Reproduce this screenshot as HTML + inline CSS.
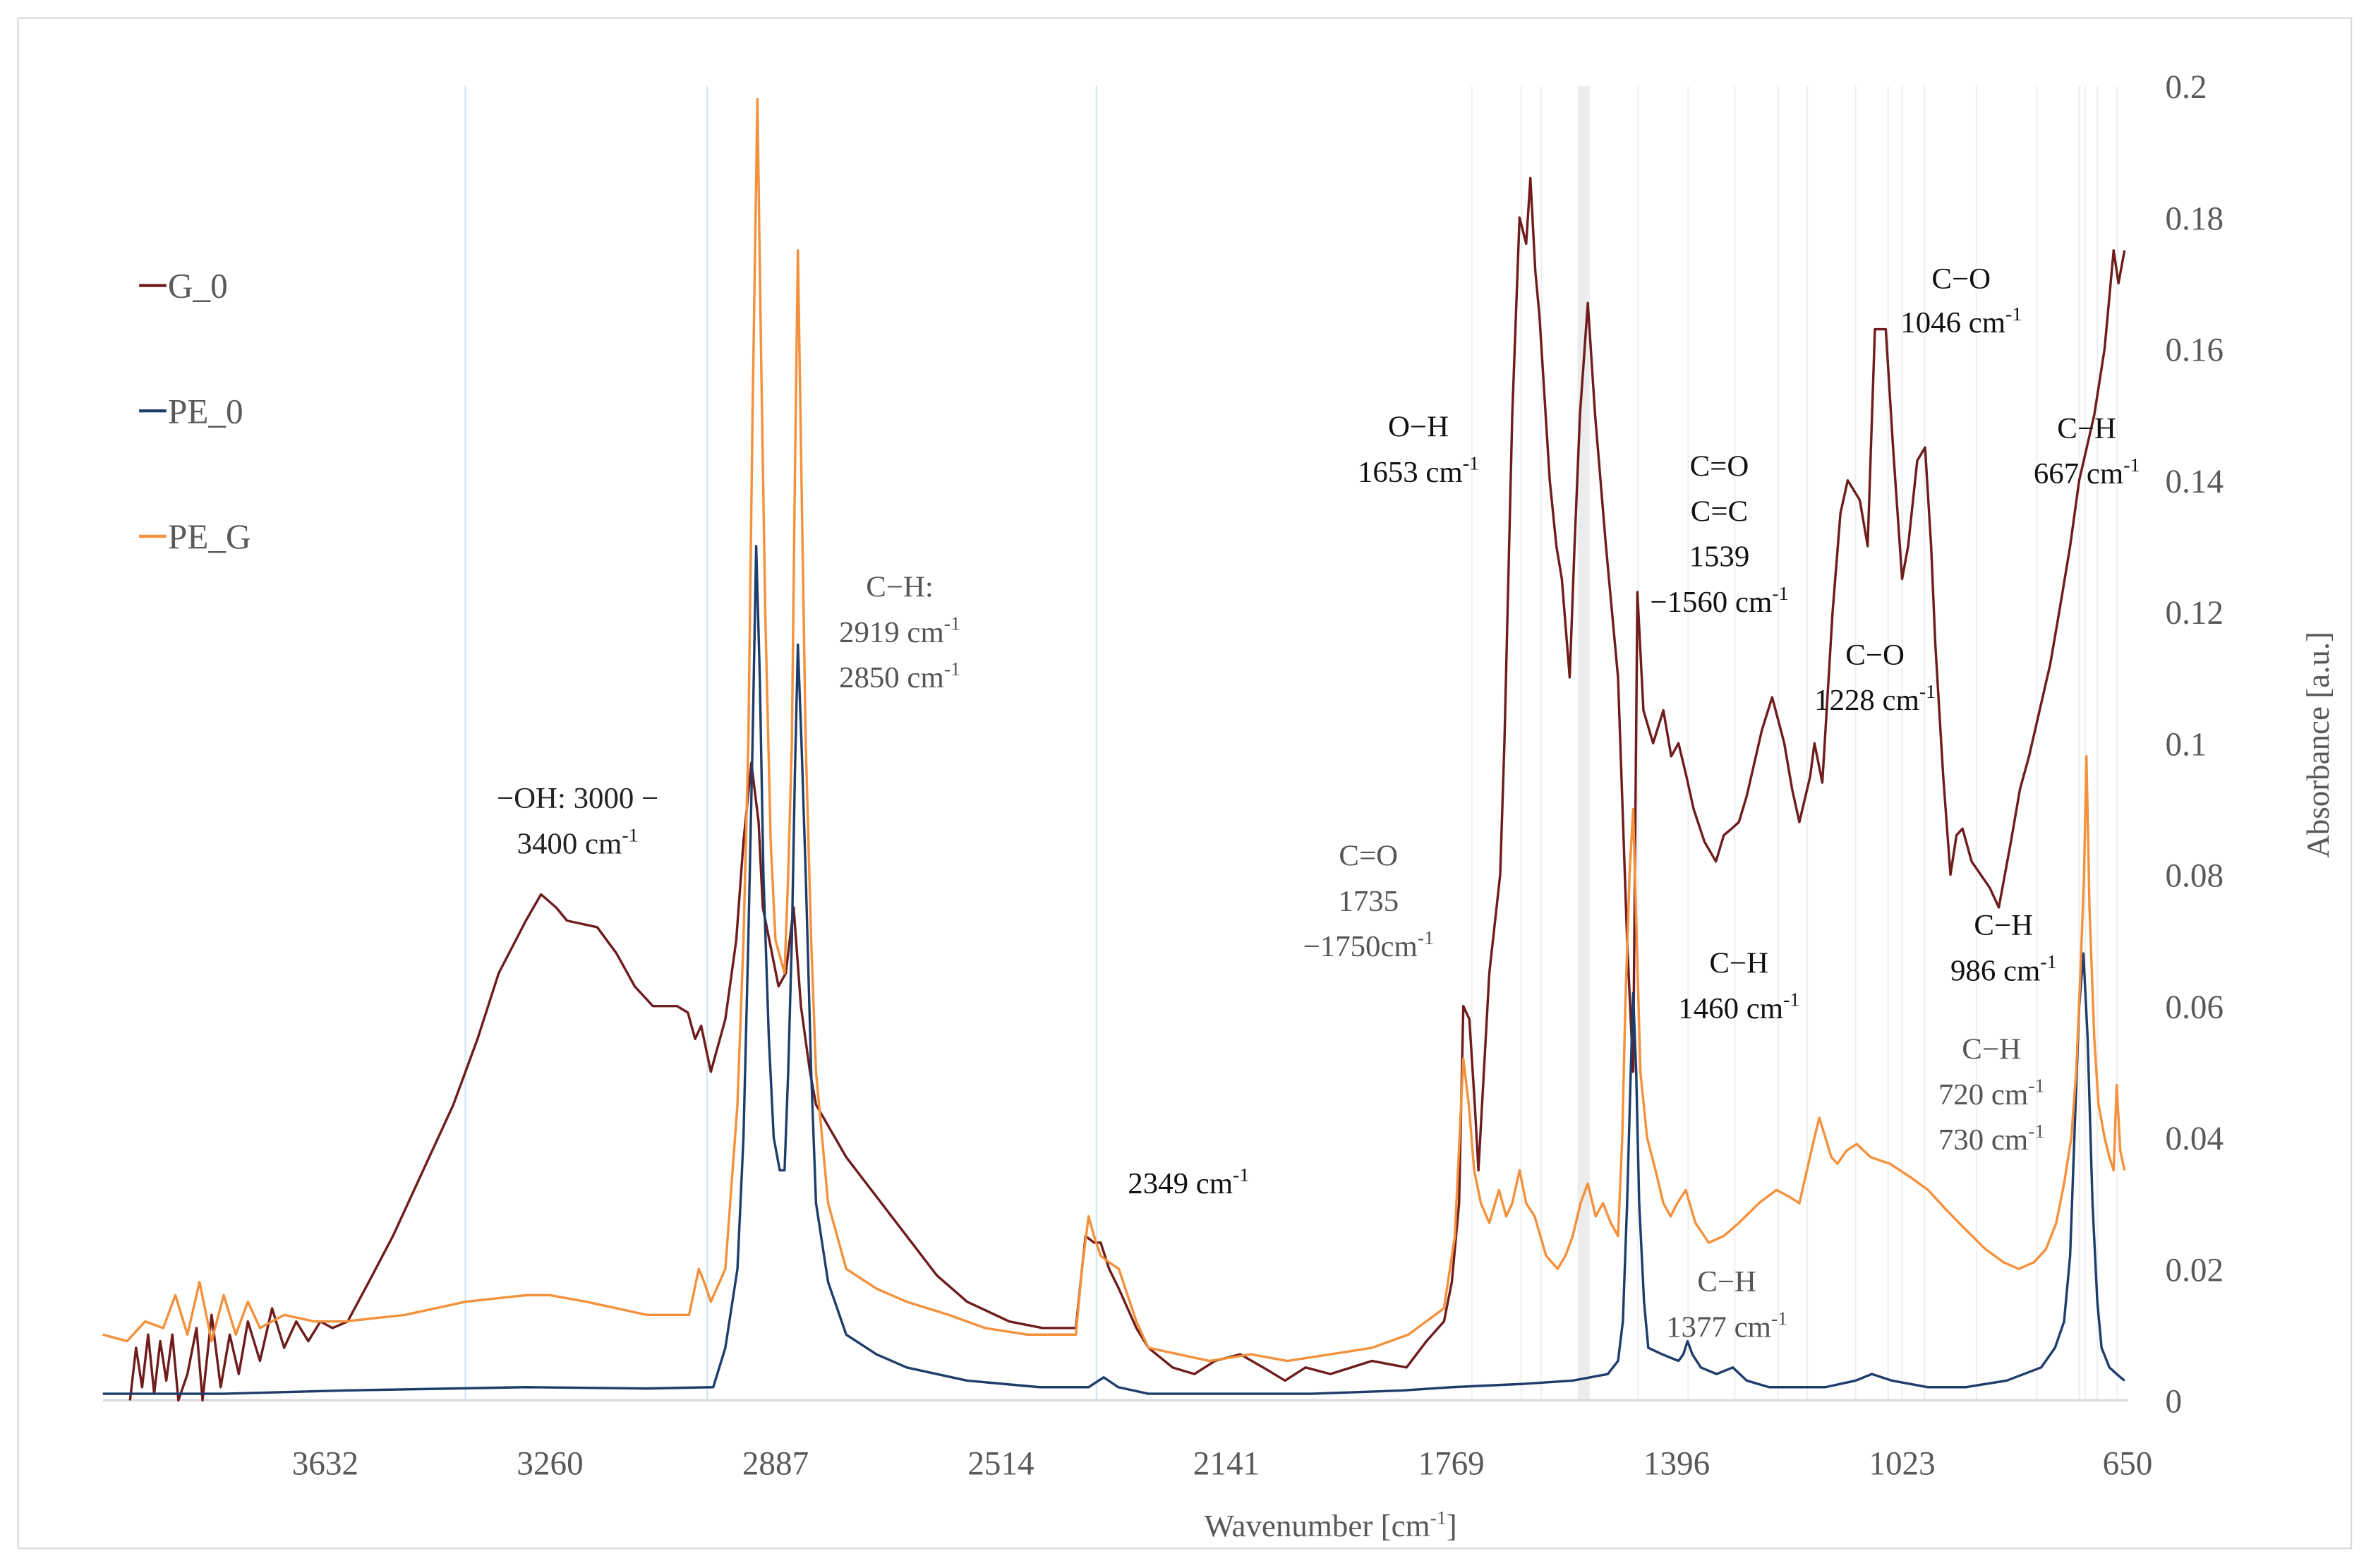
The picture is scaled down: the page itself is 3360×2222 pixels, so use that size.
<!DOCTYPE html>
<html><head><meta charset="utf-8"><style>
html,body{margin:0;padding:0;background:#fff;}
svg{display:block;}
text{font-family:"Liberation Serif",serif;}
</style></head><body>
<svg id="chart" width="3360" height="2222" viewBox="0 0 1568 1038" preserveAspectRatio="none" xmlns="http://www.w3.org/2000/svg">
<rect x="12" y="12" width="1543" height="1013" fill="#fff" stroke="#d9d9d9" stroke-width="1"/>
<g id="grid"></g>
<g id="axes"></g>
<g id="series"></g>
<g id="annot" font-size="20"></g>
<g id="legend"></g>
</svg>
<script>
const xTicks=[3632,3260,2887,2514,2141,1769,1396,1023,650];
const yTicks=[0,0.02,0.04,0.06,0.08,0.1,0.12,0.14,0.16,0.18,0.2];
const yTickLabels=["0","0.02","0.04","0.06","0.08","0.1","0.12","0.14","0.16","0.18","0.2"];
const gridBlue=[3400,3000,2356];
const gridGray=[1735,1653,1620,1460,1377,1300,1228,1180,1100,1046,1023,986,900,800,730,720,700,667];
const seriesNames=["G_0","PE_0","PE_G"];
const seriesColors=["#6e1c1c","#1f3d6b","#f4913c"];
const g0=[[3955,0.0],[3945,0.008],[3935,0.002],[3925,0.01],[3915,0.001],[3905,0.009],[3895,0.003],[3885,0.01],[3875,0.0],[3860,0.004],[3845,0.011],[3835,0.0],[3820,0.013],[3805,0.002],[3790,0.01],[3775,0.004],[3760,0.012],[3740,0.006],[3720,0.014],[3700,0.008],[3680,0.012],[3660,0.009],[3640,0.012],[3620,0.011],[3595,0.012],[3560,0.018],[3520,0.025],[3470,0.035],[3420,0.045],[3380,0.055],[3345,0.065],[3300,0.073],[3275,0.077],[3250,0.075],[3232,0.073],[3182,0.072],[3150,0.068],[3120,0.063],[3090,0.06],[3050,0.06],[3032,0.059],[3020,0.055],[3010,0.057],[2994,0.05],[2970,0.058],[2952,0.07],[2940,0.085],[2927,0.097],[2915,0.088],[2908,0.075],[2882,0.063],[2870,0.065],[2857,0.075],[2845,0.06],[2830,0.05],[2820,0.045],[2770,0.037],[2720,0.031],[2670,0.025],[2620,0.019],[2570,0.015],[2500,0.012],[2445,0.011],[2390,0.011],[2380,0.02],[2374,0.025],[2360,0.024],[2349,0.024],[2335,0.02],[2319,0.017],[2290,0.011],[2270,0.008],[2230,0.005],[2194,0.004],[2160,0.006],[2118,0.007],[2080,0.005],[2044,0.003],[2010,0.005],[1969,0.004],[1900,0.006],[1843,0.005],[1810,0.009],[1781,0.012],[1768,0.018],[1756,0.03],[1749,0.06],[1739,0.058],[1730,0.045],[1724,0.035],[1715,0.05],[1706,0.065],[1688,0.08],[1681,0.1],[1668,0.15],[1656,0.18],[1645,0.176],[1638,0.186],[1630,0.172],[1623,0.165],[1606,0.14],[1595,0.13],[1586,0.125],[1573,0.11],[1565,0.13],[1556,0.15],[1543,0.167],[1531,0.15],[1513,0.13],[1493,0.11],[1478,0.07],[1468,0.05],[1461,0.123],[1451,0.105],[1435,0.1],[1418,0.105],[1405,0.098],[1393,0.1],[1380,0.095],[1368,0.09],[1350,0.085],[1331,0.082],[1318,0.086],[1305,0.087],[1293,0.088],[1280,0.092],[1255,0.102],[1238,0.107],[1218,0.1],[1205,0.093],[1193,0.088],[1175,0.095],[1168,0.1],[1155,0.094],[1138,0.12],[1125,0.135],[1113,0.14],[1093,0.137],[1080,0.13],[1068,0.163],[1050,0.163],[1038,0.145],[1023,0.125],[1013,0.13],[998,0.143],[985,0.145],[975,0.13],[968,0.115],[955,0.095],[943,0.08],[933,0.086],[923,0.087],[908,0.082],[893,0.08],[878,0.078],[863,0.075],[853,0.08],[843,0.085],[828,0.093],[813,0.098],[793,0.106],[778,0.112],[763,0.12],[745,0.13],[730,0.14],[705,0.15],[688,0.16],[673,0.175],[665,0.17],[655,0.175]];
const pe0=[[4000,0.001],[3800,0.001],[3600,0.0015],[3300,0.002],[3100,0.0018],[2990,0.002],[2970,0.008],[2950,0.02],[2940,0.04],[2932,0.07],[2925,0.1],[2919,0.13],[2913,0.11],[2907,0.08],[2898,0.055],[2890,0.04],[2880,0.035],[2872,0.035],[2866,0.05],[2860,0.07],[2855,0.095],[2850,0.115],[2844,0.1],[2837,0.08],[2828,0.05],[2820,0.03],[2800,0.018],[2770,0.01],[2720,0.007],[2670,0.005],[2620,0.004],[2570,0.003],[2450,0.002],[2369,0.002],[2344,0.0035],[2320,0.002],[2270,0.001],[2000,0.001],[1850,0.0015],[1768,0.002],[1650,0.0025],[1568,0.003],[1510,0.004],[1493,0.006],[1485,0.012],[1478,0.03],[1472,0.05],[1468,0.062],[1463,0.05],[1458,0.03],[1450,0.015],[1443,0.008],[1420,0.007],[1393,0.006],[1385,0.007],[1378,0.009],[1370,0.007],[1356,0.005],[1330,0.004],[1303,0.005],[1280,0.003],[1243,0.002],[1150,0.002],[1100,0.003],[1073,0.004],[1040,0.003],[980,0.002],[918,0.002],[850,0.003],[793,0.005],[770,0.008],[755,0.012],[745,0.022],[738,0.04],[730,0.06],[723,0.068],[716,0.055],[708,0.03],[700,0.015],[693,0.008],[680,0.005],[668,0.004],[655,0.003]];
const peg=[[4000,0.01],[3960,0.009],[3930,0.012],[3900,0.011],[3880,0.016],[3860,0.01],[3840,0.018],[3820,0.009],[3800,0.016],[3780,0.01],[3760,0.015],[3740,0.011],[3700,0.013],[3650,0.012],[3600,0.012],[3500,0.013],[3400,0.015],[3300,0.016],[3260,0.016],[3200,0.015],[3100,0.013],[3030,0.013],[3014,0.02],[3005,0.018],[2994,0.015],[2970,0.02],[2950,0.045],[2940,0.07],[2932,0.1],[2925,0.15],[2917,0.198],[2911,0.16],[2904,0.12],[2895,0.085],[2887,0.07],[2872,0.065],[2866,0.08],[2860,0.1],[2855,0.14],[2850,0.175],[2844,0.14],[2837,0.1],[2828,0.07],[2820,0.05],[2800,0.03],[2770,0.02],[2720,0.017],[2670,0.015],[2600,0.013],[2540,0.011],[2470,0.01],[2390,0.01],[2380,0.02],[2369,0.028],[2360,0.025],[2349,0.022],[2335,0.021],[2319,0.02],[2290,0.012],[2270,0.008],[2220,0.007],[2169,0.006],[2100,0.007],[2040,0.006],[1969,0.007],[1900,0.008],[1840,0.01],[1781,0.014],[1763,0.025],[1749,0.052],[1740,0.045],[1731,0.035],[1720,0.03],[1706,0.027],[1690,0.032],[1678,0.028],[1668,0.03],[1656,0.035],[1645,0.03],[1631,0.028],[1612,0.022],[1593,0.02],[1580,0.022],[1568,0.025],[1555,0.03],[1543,0.033],[1530,0.028],[1518,0.03],[1505,0.027],[1493,0.025],[1486,0.04],[1481,0.06],[1474,0.08],[1468,0.09],[1462,0.07],[1456,0.05],[1445,0.04],[1431,0.035],[1418,0.03],[1406,0.028],[1395,0.03],[1381,0.032],[1365,0.027],[1343,0.024],[1318,0.025],[1293,0.027],[1260,0.03],[1231,0.032],[1210,0.031],[1193,0.03],[1178,0.036],[1168,0.04],[1160,0.043],[1150,0.04],[1140,0.037],[1130,0.036],[1115,0.038],[1098,0.039],[1075,0.037],[1043,0.036],[1010,0.034],[980,0.032],[950,0.029],[918,0.026],[885,0.023],[855,0.021],[830,0.02],[805,0.021],[785,0.023],[768,0.027],[755,0.033],[743,0.04],[735,0.05],[728,0.065],[722,0.08],[718,0.098],[713,0.075],[705,0.055],[698,0.045],[688,0.04],[680,0.037],[673,0.035],[668,0.048],[662,0.038],[655,0.035]];
const allSeries=[g0,pe0,peg];

const X0=68,X1=1407,W0=4000,W1=650,Y0=927,YT=57;
function sx(w){return X0+(W0-w)/(W0-W1)*(X1-X0);}
function sy(v){return Y0-v/0.2*(Y0-YT);}
const NS="http://www.w3.org/2000/svg";
function mk(tag,attrs,parent){const e=document.createElementNS(NS,tag);for(const k in attrs)e.setAttribute(k,attrs[k]);parent.appendChild(e);return e;}

const grid=document.getElementById('grid');
const band=mk('rect',{x:sx(1560),y:YT,width:sx(1540)-sx(1560),height:Y0-YT,fill:'#ececec'},grid);


gridBlue.forEach(w=>{const l=mk('line',{x1:sx(w),x2:sx(w),y1:YT,y2:Y0,stroke:'#cfe6ec','stroke-width':1},grid);

});
gridGray.forEach(w=>{const l=mk('line',{x1:sx(w),x2:sx(w),y1:YT,y2:Y0,stroke:'#efefef','stroke-width':1},grid);

});

const axes=document.getElementById('axes');
const xl=mk('line',{x1:X0,x2:X1,y1:Y0,y2:Y0,stroke:'#d9d9d9','stroke-width':1.5},axes);


xTicks.forEach((w,i)=>{const t=mk('text',{x:sx(w),y:976,'text-anchor':'middle','font-size':22,fill:'#595959'},axes);t.textContent=w;

});
yTicks.forEach((v,i)=>{const t=mk('text',{x:1432,y:sy(v)+8,'font-size':22,fill:'#595959'},axes);t.textContent=yTickLabels[i];

});
const xt=mk('text',{x:880,y:1017,'text-anchor':'middle','font-size':21,fill:'#595959'},axes);
xt.innerHTML='Wavenumber [cm<tspan dy="-8" font-size="13">-1</tspan><tspan dy="8">]</tspan>';


const yt=mk('text',{x:0,y:0,'text-anchor':'middle','font-size':21,fill:'#595959',transform:'translate(1540,493) rotate(-90)'},axes);
yt.textContent='Absorbance [a.u.]';



const sg=document.getElementById('series');
allSeries.forEach((data,i)=>{
 const d=data.map((p,j)=>(j?'L':'M')+sx(p[0]).toFixed(2)+','+sy(p[1]).toFixed(2)).join('');
 const p=mk('path',{d:d,fill:'none',stroke:seriesColors[i],'stroke-width':1.6,'stroke-linejoin':'round'},sg);
 
 
});
// draw G_0 on top of orange? reference: PE_G over G_0 in some places; keep order G,PE0,PEG.

const lg=document.getElementById('legend');
seriesNames.forEach((n,i)=>{const y=189+i*83;
 const l=mk('line',{x1:92,x2:110,y1:y,y2:y,stroke:seriesColors[i],'stroke-width':2},lg);
 
 
 const t=mk('text',{x:111,y:y+8,'font-size':23,fill:'#595959'},lg);t.textContent=n;
 
 
});

const ann=document.getElementById('annot');
const notes=[
 [382,528,'−OH: 3000 −','#222'],[382,558,'3400 cm|-1','#222'],
 [595,388,'C−H:','#555'],[595,418,'2919 cm|-1','#555'],[595,448,'2850 cm|-1','#555'],
 [786,783,'2349 cm|-1','#111'],
 [905,566,'C=O','#555'],[905,596,'1735','#555'],[905,626,'−1750cm|-1','#555'],
 [938,282,'O−H','#111'],[938,312,'1653 cm|-1','#111'],
 [1137,308,'C=O','#111'],[1137,338,'C=C','#111'],[1137,368,'1539','#111'],[1137,398,'−1560 cm|-1','#111'],
 [1297,184,'C−O','#111'],[1297,213,'1046 cm|-1','#111'],
 [1380,283,'C−H','#111'],[1380,313,'667 cm|-1','#111'],
 [1240,433,'C−O','#111'],[1240,463,'1228 cm|-1','#111'],
 [1150,637,'C−H','#111'],[1150,667,'1460 cm|-1','#111'],
 [1325,612,'C−H','#111'],[1325,642,'986 cm|-1','#111'],
 [1317,694,'C−H','#555'],[1317,724,'720 cm|-1','#555'],[1317,754,'730 cm|-1','#555'],
 [1142,848,'C−H','#555'],[1142,878,'1377 cm|-1','#555']
];
notes.forEach(a=>{const t=mk('text',{x:a[0],y:a[1]+7,'text-anchor':'middle','font-size':20,fill:a[3]},ann);
 const parts=a[2].split('|');
 if(parts.length>1){t.innerHTML=parts[0]+'<tspan dy="-8" font-size="13">'+parts[1]+'</tspan>';}
 else t.textContent=parts[0];
 
 
});
</script>
</body></html>
